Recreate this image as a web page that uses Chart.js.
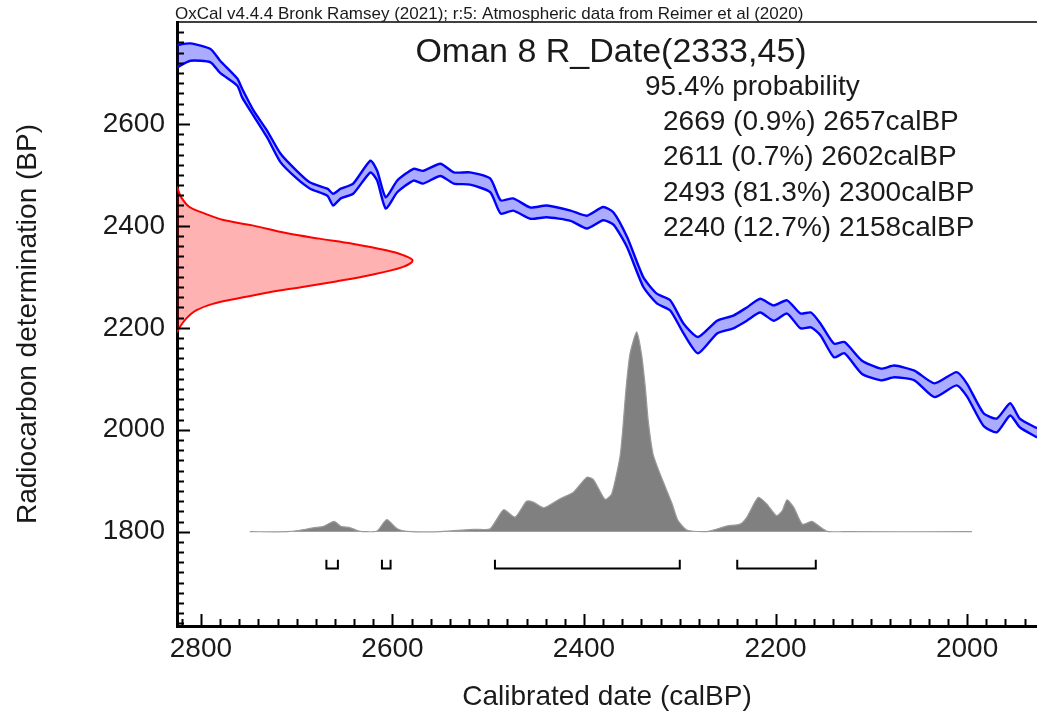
<!DOCTYPE html>
<html>
<head>
<meta charset="utf-8">
<title>Oman 8 R_Date(2333,45)</title>
<script src="https://cdn.jsdelivr.net/npm/chart.js@4.4.1/dist/chart.umd.min.js"></script>
<style>
  html, body { margin: 0; padding: 0; background: #fff; }
  #wrap { width: 1037px; height: 719px; }
</style>
</head>
<body>
<div id="wrap"><canvas id="grafico" width="1037" height="719"></canvas></div>
<script>
// eixo x: anos calBP (invertido), eixo y: idade radiocarbono BP
const X_MIN = 1927, X_MAX = 2825;
const Y_MIN = 1615, Y_MAX = 2800;
const X_TICKS = [2800, 2600, 2400, 2200, 2000];
const Y_TICKS = [1800, 2000, 2200, 2400, 2600];

// curva de calibracao (IntCal20): limite superior / inferior
const CAL_BP = [2825, 2811, 2790, 2780, 2762, 2757, 2745, 2731, 2717, 2700, 2686, 2668, 2662, 2654, 2641, 2623, 2616, 2607, 2595, 2578,
  2568, 2550, 2536, 2519, 2498, 2487, 2474, 2456, 2439, 2414, 2397, 2380, 2369, 2355, 2338, 2324, 2310, 2296, 2281, 2261,
  2244, 2230, 2216, 2202, 2188, 2174, 2163, 2153, 2139, 2128, 2110, 2090, 2076, 2055, 2034, 2011, 2000, 1983, 1969, 1955,
  1945, 1927];
const CURVA_SUP = [2755, 2758, 2747, 2724, 2689, 2669, 2626, 2587, 2542, 2508, 2485, 2473, 2463, 2473, 2483, 2528, 2508, 2456, 2489, 2512,
  2508, 2522, 2505, 2505, 2493, 2450, 2454, 2436, 2440, 2430, 2420, 2437, 2426, 2378, 2299, 2267, 2254, 2208, 2182, 2214,
  2224, 2240, 2257, 2244, 2254, 2228, 2230, 2208, 2169, 2172, 2136, 2120, 2126, 2116, 2091, 2113, 2090, 2033, 2022, 2052,
  2022, 2003];
const CURVA_INF = [2711, 2724, 2721, 2700, 2675, 2652, 2616, 2574, 2525, 2493, 2473, 2459, 2440, 2454, 2463, 2505, 2489, 2434, 2466, 2489,
  2483, 2498, 2483, 2481, 2466, 2424, 2430, 2414, 2417, 2410, 2395, 2411, 2402, 2358, 2280, 2248, 2234, 2189, 2150, 2189,
  2199, 2214, 2230, 2214, 2228, 2199, 2201, 2185, 2142, 2150, 2110, 2097, 2103, 2097, 2064, 2087, 2065, 2008, 1995, 2028,
  2005, 1985];

// R_Date(2333,45): densidade relativa (pico = 1) por idade BP
const DATA_BP = [2478, 2473, 2456, 2437, 2426, 2412, 2401, 2386, 2375, 2365, 2352, 2343, 2332, 2319, 2303, 2291, 2280, 2270, 2257, 2247,
  2234, 2218, 2201, 2191];
const DATA_PROB = [0, 0.003, 0.018, 0.053, 0.108, 0.193, 0.32, 0.463, 0.604, 0.745, 0.888, 0.957, 1.0, 0.957, 0.817, 0.675, 0.532, 0.392, 0.251, 0.152,
  0.081, 0.039, 0.011, 0];
const DATA_LARG = 246; // largura do pico em anos do eixo x

// distribuicao calibrada: densidade relativa por ano calBP
const CALIB_BP = [2749, 2710, 2698, 2682, 2672, 2661, 2654, 2644, 2635, 2626, 2616, 2606, 2595, 2585, 2550, 2515, 2498, 2484, 2472, 2460,
  2453, 2442, 2425, 2411, 2397, 2390, 2378, 2371, 2362, 2356, 2352, 2345, 2340, 2336, 2333, 2328, 2322, 2315, 2308, 2302,
  2292, 2273, 2265, 2251, 2237, 2230, 2218, 2209, 2199, 2193, 2188, 2181, 2172, 2162, 2155, 2146, 2130, 1995];
const CALIB_PROB = [0, 0, 0.006, 0.02, 0.027, 0.052, 0.027, 0.02, 0.003, 0, 0.003, 0.06, 0.015, 0.002, 0, 0.012, 0.015, 0.11, 0.073, 0.152,
  0.148, 0.12, 0.165, 0.198, 0.273, 0.26, 0.162, 0.19, 0.39, 0.723, 0.89, 1.0, 0.89, 0.723, 0.557, 0.39, 0.307, 0.223, 0.14, 0.057,
  0.007, 0, 0.008, 0.028, 0.038, 0.072, 0.172, 0.138, 0.08, 0.105, 0.16, 0.122, 0.038, 0.052, 0.03, 0.002, 0, 0];
const CALIB_BASE = 1800, CALIB_ALT = 392;

// intervalos 95.4%
const FAIXA_DE = [2669, 2611, 2493, 2240];
const FAIXA_ATE = [2657, 2602, 2300, 2158];
const FAIXA_PCT = ['0.9', '0.7', '81.3', '12.7'];
const COLCHETE_BP = 1728, COLCHETE_PONTA = 1745;

const CABECALHO = 'OxCal v4.4.4 Bronk Ramsey (2021); r:5: Atmospheric data from Reimer et al (2020)';
const TITULO = 'Oman 8 R_Date(2333,45)';
const PROB_TXT = '95.4% probability';

const FONTE = "'Liberation Sans', Arial, Helvetica, sans-serif";
Chart.defaults.font.family = FONTE;

const sup = CAL_BP.map((c, i) => ({ x: c, y: CURVA_SUP[i] }));
const inf = CAL_BP.map((c, i) => ({ x: c, y: CURVA_INF[i] }));
const rDate = DATA_BP.map((b, i) => ({ x: X_MAX - DATA_PROB[i] * DATA_LARG, y: b }));
const calib = CALIB_BP.map((c, i) => ({ x: c, y: CALIB_BASE + CALIB_PROB[i] * CALIB_ALT }));
const colchetes = [];
FAIXA_DE.forEach((de, i) => {
  const ate = FAIXA_ATE[i];
  colchetes.push({ x: de, y: COLCHETE_PONTA }, { x: de, y: COLCHETE_BP }, { x: ate, y: COLCHETE_BP }, { x: ate, y: COLCHETE_PONTA }, { x: ate, y: null });
});

// sem padding extra dos rotulos: area do grafico fica onde o layout manda
const semPadding = s => { s.paddingTop = 0; s.paddingBottom = 0; s.paddingLeft = 0; s.paddingRight = 0; };

// ticks para dentro + borda de cima
const marcas = {
  id: 'marcas',
  afterDraw(chart) {
    const { ctx, chartArea: a, scales: { x, y } } = chart;
    ctx.save();
    ctx.strokeStyle = '#000';
    ctx.lineWidth = 2;
    ctx.beginPath();
    for (let v = 1940; v <= 2820; v += 20) {
      const px = Math.round(x.getPixelForValue(v)) + 0.5;
      ctx.moveTo(px, a.bottom);
      ctx.lineTo(px, a.bottom - (v % 200 === 0 ? 12 : 7));
    }
    for (let v = 1620; v <= 2780; v += 20) {
      const py = Math.round(y.getPixelForValue(v)) + 0.5;
      ctx.moveTo(a.left, py);
      ctx.lineTo(a.left + (v % 200 === 0 ? 13 : 7), py);
    }
    ctx.stroke();
    ctx.lineWidth = 1.5;
    ctx.beginPath();
    ctx.moveTo(a.left, a.top);
    ctx.lineTo(a.right, a.top);
    ctx.stroke();
    ctx.restore();
  }
};

const textos = {
  id: 'textos',
  afterDraw(chart) {
    const { ctx, chartArea: a } = chart;
    ctx.save();
    ctx.fillStyle = '#1a1a1a';
    ctx.textBaseline = 'alphabetic';
    ctx.textAlign = 'left';
    ctx.font = `17px ${FONTE}`;
    ctx.fillText(CABECALHO, a.left - 2, a.top - 3);
    ctx.font = `34px ${FONTE}`;
    ctx.textAlign = 'center';
    ctx.fillText(TITULO, 611, 62);
    ctx.font = `28px ${FONTE}`;
    ctx.textAlign = 'left';
    ctx.fillText(PROB_TXT, 645, 95);
    FAIXA_DE.forEach((de, i) => {
      ctx.fillText(`${de} (${FAIXA_PCT[i]}%) ${FAIXA_ATE[i]}calBP`, 663, 130 + i * 35.3);
    });
    ctx.restore();
  }
};

new Chart(document.getElementById('grafico'), {
  type: 'line',
  data: {
    datasets: [
      { data: colchetes, borderColor: '#000', borderWidth: 2, pointRadius: 0, fill: false, spanGaps: false },
      { data: calib, borderColor: '#9a9a9a', borderWidth: 1.2, backgroundColor: '#808080', fill: { value: CALIB_BASE }, pointRadius: 0, tension: 0.2 },
      { data: rDate, borderColor: '#ff0000', borderWidth: 2, backgroundColor: 'rgba(255,0,0,0.3)', fill: 'shape', pointRadius: 0, tension: 0.35 },
      { data: sup, borderColor: '#0000ff', borderWidth: 2.4, backgroundColor: 'rgba(0,0,255,0.33)', fill: '+1', pointRadius: 0, tension: 0.2 },
      { data: inf, borderColor: '#0000ff', borderWidth: 2.4, fill: false, pointRadius: 0, tension: 0.2 }
    ]
  },
  options: {
    responsive: false,
    animation: false,
    devicePixelRatio: 1,
    events: [],
    plugins: { legend: { display: false }, tooltip: { enabled: false } },
    layout: { padding: { top: 22, right: 0, bottom: 0, left: 0 } },
    scales: {
      x: {
        type: 'linear', reverse: true, min: X_MIN, max: X_MAX, z: 1,
        grid: { display: false, drawTicks: false },
        border: { display: true, color: '#000', width: 3 },
        afterBuildTicks: s => { s.ticks = X_TICKS.map(v => ({ value: v })); },
        afterFit: s => { s.height = 93; semPadding(s); },
        ticks: { font: { size: 28 }, color: '#1a1a1a', padding: 6, autoSkip: false, maxRotation: 0, callback: v => String(v) },
        title: { display: true, text: 'Calibrated date (calBP)', font: { size: 28 }, color: '#1a1a1a', padding: { top: 0, bottom: 5 } }
      },
      y: {
        type: 'linear', min: Y_MIN, max: Y_MAX, z: 1,
        grid: { display: false, drawTicks: false },
        border: { display: true, color: '#000', width: 3 },
        afterBuildTicks: s => { s.ticks = Y_TICKS.map(v => ({ value: v })); },
        afterFit: s => { s.width = 177; semPadding(s); },
        ticks: { font: { size: 28 }, color: '#1a1a1a', padding: 12, callback: v => String(v) },
        title: { display: true, text: 'Radiocarbon determination (BP)', font: { size: 28 }, color: '#1a1a1a', padding: { top: 11, bottom: 0 } }
      }
    }
  },
  plugins: [marcas, textos]
});
</script>
</body>
</html>
